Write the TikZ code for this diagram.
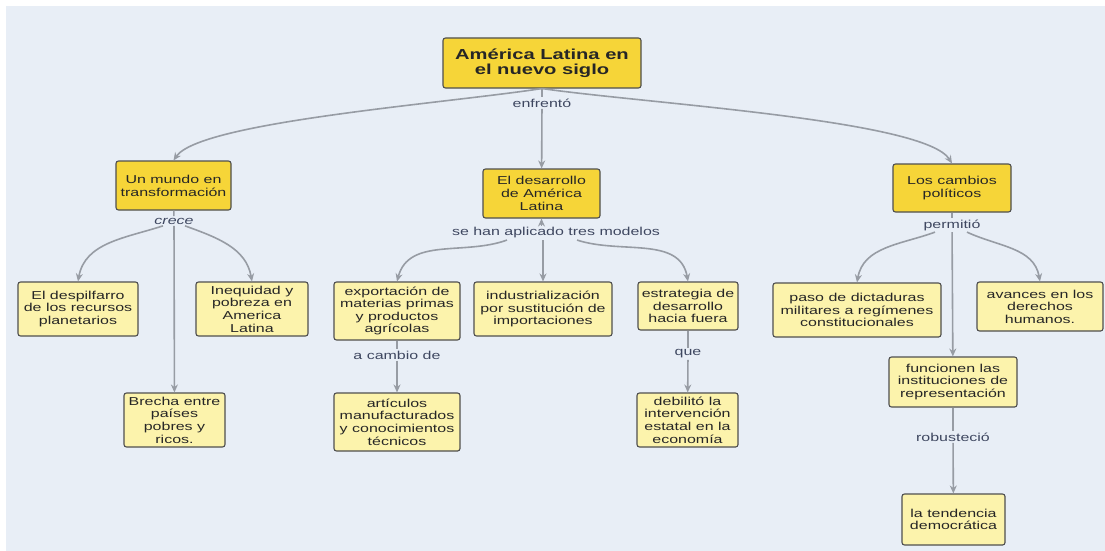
\documentclass[tikz,border=0pt]{standalone}
\usepackage{fontspec}
\newfontfamily\mapfont{Liberation Sans}[FakeStretch=1.39]
\usepackage{xcolor}
\usepackage{tikz}
\usetikzlibrary{positioning, arrows.meta, calc}
\definecolor{mapbg}{HTML}{E8EEF6}
\definecolor{goldfill}{HTML}{F6D538}
\definecolor{palefill}{HTML}{FCF3AC}
\definecolor{boxborder}{HTML}{4F4F4F}
\definecolor{linkgray}{HTML}{979CA4}
\definecolor{linktext}{HTML}{3E4760}

\tikzset{
  conceptbox/.style={fill=goldfill, draw=boxborder, line width=1.1pt, rounded corners=2.5pt,
    align=center, inner sep=2pt, text=black!85, font=\mapfont\fontsize{11.5}{13}\selectfont},
  ideabox/.style={conceptbox, fill=palefill, font=\mapfont\fontsize{11.5}{12.6}\selectfont},
  linkword/.style={text=linktext, inner sep=1.5pt, font=\mapfont\fontsize{11.5}{12.6}\selectfont},
  joint/.style={draw=linkgray, line width=1.6pt},
  conn/.style={joint, -{Stealth[length=8pt,width=7pt]}},
}

\begin{document}
\begin{tikzpicture}[x=1pt, y=1pt]
  \useasboundingbox (0,0) rectangle (1105,-551);
  \fill[mapbg] (6,-6) rectangle (1105,-551);

  % main concept and first level
  \node[conceptbox, minimum width=198pt, minimum height=50pt,
        font=\mapfont\bfseries\fontsize{14.5}{15.5}\selectfont] (root) at (542,-63) {América Latina en\\el nuevo siglo};
  \node[conceptbox, minimum width=115pt, minimum height=49pt] (mundo) at (173.5,-185.5) {Un mundo en\\transformación};
  \node[conceptbox, minimum width=117pt, minimum height=49pt] (desa) at (541.5,-193.5) {El desarrollo\\de América\\Latina};
  \node[conceptbox, minimum width=118pt, minimum height=48pt] (camb) at (952,-188) {Los cambios\\políticos};

  % linking words
  \node[linkword] (enf) at (542,-103) {enfrentó};
  \node[linkword, font=\mapfont\itshape\fontsize{11.5}{12.6}\selectfont] (crece) at (174,-221) {crece};
  \node[linkword] (modelos) at (556,-233) {se han aplicado tres modelos};
  \node[linkword] (perm) at (952,-225) {permitió};
  \node[linkword] (cambio) at (397,-355) {a cambio de};
  \node[linkword] (que) at (688,-354) {que};
  \node[linkword] (robu) at (953,-437) {robusteció};

  % second level
  \node[ideabox, minimum width=120pt, minimum height=54pt] (desp) at (78,-309) {El despilfarro\\de los recursos\\planetarios};
  \node[ideabox, minimum width=112pt, minimum height=54pt] (ineq) at (252,-309) {Inequidad y\\pobreza en\\America\\Latina};
  \node[ideabox, minimum width=101pt, minimum height=54pt] (brecha) at (174.5,-420) {Brecha entre\\países\\pobres y\\ricos.};
  \node[ideabox, minimum width=126pt, minimum height=58pt] (expo) at (397,-311) {exportación de\\materias primas\\y productos\\agrícolas};
  \node[ideabox, minimum width=138pt, minimum height=54pt] (indu) at (543,-309) {industrialización\\por sustitución de\\importaciones};
  \node[ideabox, minimum width=100pt, minimum height=48pt] (estr) at (688,-306) {estrategia de\\desarrollo\\hacia fuera};
  \node[ideabox, minimum width=126pt, minimum height=58pt] (arti) at (397,-422) {artículos\\manufacturados\\y conocimientos\\técnicos};
  \node[ideabox, minimum width=101pt, minimum height=54pt] (debi) at (687.5,-420) {debilitó la\\intervención\\estatal en la\\economía};
  \node[ideabox, minimum width=168pt, minimum height=54pt] (paso) at (857,-310) {paso de dictaduras\\militares a regímenes\\constitucionales};
  \node[ideabox, minimum width=126pt, minimum height=49pt] (avan) at (1040,-306.5) {avances en los\\derechos\\humanos.};
  \node[ideabox, minimum width=128pt, minimum height=50pt] (func) at (953,-382) {funcionen las\\instituciones de\\representación};
  \node[ideabox, minimum width=103pt, minimum height=51pt] (tend) at (953.5,-519.5) {la tendencia\\democrática};

  % connectors
  \draw[joint] (root) -- (enf);
  \draw[conn] (enf) -- (desa);
  \draw[conn] (root.south) .. controls (440,-104) and (200,-122) .. (mundo.north);
  \draw[conn] (root.south) .. controls (650,-104) and (925,-120) .. (camb.north);

  \draw[joint] (mundo) -- (crece);
  \draw[conn] ([xshift=-11pt]crece.south) to[out=198, in=80] (desp.north);
  \draw[conn] (crece) -- (brecha);
  \draw[conn] ([xshift=11pt]crece.south) to[out=-20, in=100] (ineq.north);

  \draw[conn] (desa.south |- modelos.north) -- (desa.south);
  \draw[conn] ([xshift=-49pt]modelos.south) to[out=200, in=75] (expo.north);
  \draw[conn] (modelos.south -| indu.north) -- (indu.north);
  \draw[conn] ([xshift=21pt]modelos.south) to[out=-18, in=100] (estr.north);

  \draw[joint] (camb) -- (perm);
  \draw[conn] ([xshift=-17pt]perm.south) to[out=200, in=80] (paso.north);
  \draw[conn] (perm) -- (func);
  \draw[conn] ([xshift=15pt]perm.south) to[out=-25, in=100] (avan.north);

  \draw[joint] (expo) -- (cambio);
  \draw[conn] (cambio) -- (arti);
  \draw[joint] (estr) -- (que);
  \draw[conn] (que) -- (debi);
  \draw[joint] (func) -- (robu);
  \draw[conn] (robu) -- (tend);
\end{tikzpicture}
\end{document}
